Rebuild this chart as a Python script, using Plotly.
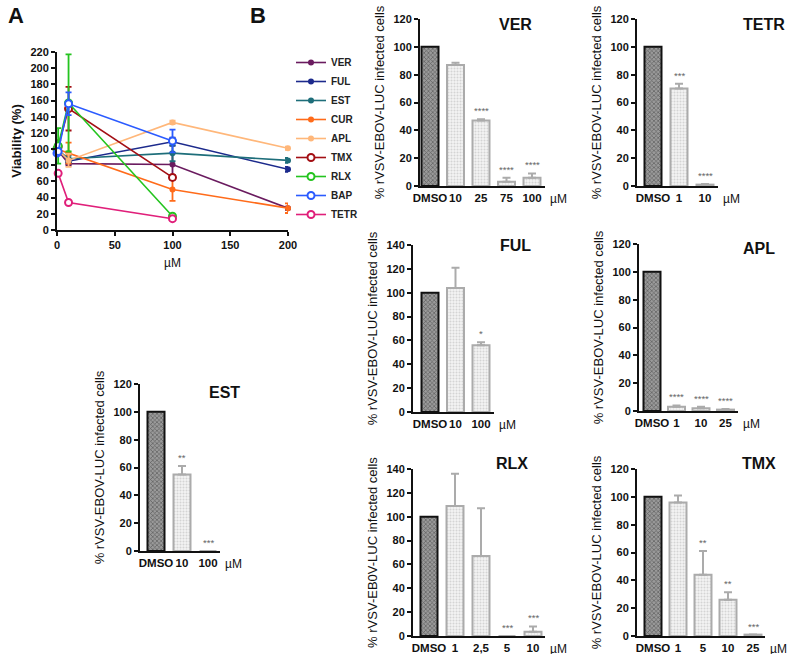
import plotly.graph_objects as go

W, H = 787, 654
FONT = "Liberation Sans, Arial, sans-serif"

# ---------------- Panel A data ----------------
series_names = ["VER", "FUL", "EST", "CUR", "APL", "TMX", "RLX", "BAP", "TETR"]
series_colors = ["#6a1b5f", "#1c2a8c", "#1e6e7a", "#ff6b1a", "#ffb77a",
                 "#a30f14", "#24c41f", "#2b5bff", "#e01f7a"]
ver_x, ver_y, ver_e = [0, 10, 100, 200], [100, 82, 81, 27], [0, 2, 14, 2]
ful_x, ful_y, ful_e = [0, 10, 100, 200], [100, 85, 109, 75], [0, 3, 5, 3]
est_x, est_y, est_e = [0, 10, 100, 200], [100, 88, 95, 86], [0, 4, 10, 3]
cur_x, cur_y, cur_e = [0, 10, 100, 200], [100, 95, 50, 27], [0, 13, 14, 6]
apl_x, apl_y, apl_e = [0, 10, 100, 200], [100, 86, 133, 101], [0, 8, 2, 2]
tmx_x, tmx_y, tmx_e = [0, 1, 10, 100], [100, 103, 150, 65], [0, 8, 27, 3]
rlx_x, rlx_y, rlx_e = [0, 1, 10, 100], [100, 104, 157, 17], [0, 22, 60, 2]
bap_x, bap_y, bap_e = [0, 1, 10, 100], [95, 97, 156, 110], [0, 4, 14, 14]
tetr_x, tetr_y, tetr_e = [1, 10, 100], [70, 34, 14], [3, 2, 2]
series_x = [ver_x, ful_x, est_x, cur_x, apl_x, tmx_x, rlx_x, bap_x, tetr_x]
series_y = [ver_y, ful_y, est_y, cur_y, apl_y, tmx_y, rlx_y, bap_y, tetr_y]
series_e = [ver_e, ful_e, est_e, cur_e, apl_e, tmx_e, rlx_e, bap_e, tetr_e]
viab_ticks = list(range(0, 221, 20))
conc_ticks = [0, 50, 100, 150, 200]

# ---------------- Panel B data ----------------
ver_cats = ["DMSO", "10", "25", "75", "100"]
ver_vals = [100, 87, 47, 3, 6]
ver_errs = [0, 1.5, 1, 3, 3]
ver_stars = ["", "", "****", "****", "****"]

tetr_cats = ["DMSO", "1", "10"]
tetr_vals = [100, 70, 1]
tetr_errs = [0, 3.5, 0.5]
tetr_stars = ["", "***", "****"]

ful_cats = ["DMSO", "10", "100"]
ful_vals = [100, 104, 56]
ful_errs = [0, 17, 2.5]
ful_stars = ["", "", "*"]

apl_cats = ["DMSO", "1", "10", "25"]
apl_vals = [100, 3, 2, 1]
apl_errs = [0, 1, 1, 0.5]
apl_stars = ["", "****", "****", "****"]

rlx_cats = ["DMSO", "1", "2,5", "5", "10"]
rlx_vals = [100, 109, 67, 0, 3.5]
rlx_errs = [0, 27, 40, 0, 4.5]
rlx_stars = ["", "", "", "***", "***"]

tmx_cats = ["DMSO", "1", "5", "10", "25"]
tmx_vals = [100, 96, 44, 26, 1]
tmx_errs = [0, 5, 17, 5.5, 0]
tmx_stars = ["", "", "**", "**", "***"]

est_cats = ["DMSO", "10", "100"]
est_vals = [100, 55, 0]
est_errs = [0, 6, 0]
est_stars = ["", "**", "***"]

ytitle = "% rVSV-EBOV-LUC infected cells"

# geometry (pixels): name, cats, vals, errs, stars, ymax, x0, xe, c0, step, y0, ytop,
#                    ytitle, title centre x, title centre y
panels = [
    ("VER", ver_cats, ver_vals, ver_errs, ver_stars, 120, 420, 545, 430, 25.5, 186, 19, ytitle, 515, 25),
    ("TETR", tetr_cats, tetr_vals, tetr_errs, tetr_stars, 120, 637, 718, 653, 26, 186, 19, ytitle, 764, 25),
    ("FUL", ful_cats, ful_vals, ful_errs, ful_stars, 140, 413, 494, 430, 25.5, 412, 245, ytitle, 515, 246),
    ("APL", apl_cats, apl_vals, apl_errs, apl_stars, 120, 639, 738, 652, 24.5, 411, 244, ytitle, 759, 248),
    ("RLX", rlx_cats, rlx_vals, rlx_errs, rlx_stars, 140, 413, 545, 429, 26, 636, 469,
     "% rVSV-EB0V-LUC infected cells", 512, 463),
    ("TMX", tmx_cats, tmx_vals, tmx_errs, tmx_stars, 120, 637, 765, 653, 25, 636, 469, ytitle, 759, 463),
    ("EST", est_cats, est_vals, est_errs, est_stars, 120, 140, 220, 156, 26, 551, 384, ytitle, 225, 392),
]

def px_x(p):
    return p / W

def px_y(p):
    return 1 - p / H

fig = go.Figure()
layout = dict(
    width=W, height=H, margin=dict(l=0, r=0, t=0, b=0, autoexpand=False),
    paper_bgcolor="white", plot_bgcolor="white",
    barmode="overlay", font=dict(family=FONT, color="#111"),
    showlegend=True,
)
annotations = []

axis_common = dict(showline=True, linewidth=2, linecolor="#111", ticks="outside",
                   ticklen=4, tickwidth=2, tickcolor="#111", showgrid=False,
                   zeroline=False, automargin=False, tickangle=0,
                   tickfont=dict(family=FONT, size=11, color="#111", weight="bold"))

# ---------------- Panel A ----------------
for i, name in enumerate(series_names):
    c = series_colors[i]
    open_marker = name in ("TMX", "RLX", "BAP", "TETR")
    fig.add_trace(go.Scatter(
        x=series_x[i], y=series_y[i], name=name, mode="lines+markers",
        line=dict(color=c, width=1.6),
        marker=dict(color="white" if open_marker else c, size=7 if open_marker else 6,
                    symbol="circle", line=dict(color=c, width=2 if open_marker else 0)),
        error_y=dict(type="data", array=series_e[i], color=c, thickness=1.8, width=3),
        cliponaxis=False, xaxis="x", yaxis="y",
    ))

layout["xaxis"] = dict(axis_common, domain=[px_x(57), px_x(288)], range=[0, 200],
                       tickvals=conc_ticks, anchor="y",
                       title=dict(text="µM", font=dict(size=12, family=FONT), standoff=8))
layout["yaxis"] = dict(axis_common, domain=[px_y(230), px_y(52)], range=[0, 220],
                       tickvals=viab_ticks, anchor="x",
                       title=dict(text="Viability (%)", standoff=6,
                                  font=dict(size=13, family=FONT, weight="bold")))
layout["legend"] = dict(x=px_x(291), y=px_y(48), xanchor="left", yanchor="top",
                        font=dict(size=10, family=FONT, color="#222", weight="bold"),
                        bgcolor="rgba(0,0,0,0)", itemwidth=30, tracegroupgap=0)

# ---------------- Panel B ----------------
for k, (name, cats, vals, errs, stars, ymax, x0, xe, c0, s, y0, ytop, yt, tx, ty) in enumerate(panels):
    ax = k + 2
    xa, ya = f"x{ax}", f"y{ax}"
    xs = list(range(len(cats)))
    bw = 17 / s
    fig.add_trace(go.Bar(
        x=xs[:1], y=vals[:1], width=bw, xaxis=xa, yaxis=ya, showlegend=False,
        marker=dict(color="#777", line=dict(color="#111", width=2),
                    pattern=dict(shape="x", fgcolor="#222", bgcolor="#9a9a9a",
                                 size=3, solidity=0.4)),
    ))
    fig.add_trace(go.Bar(
        x=xs[1:], y=vals[1:], width=bw, xaxis=xa, yaxis=ya, showlegend=False,
        marker=dict(color="#e6e6e6", line=dict(color="#ababab", width=2),
                    pattern=dict(shape=".", fgcolor="#b5b5b5", bgcolor="#f2f2f2",
                                 size=3, solidity=0.35)),
        error_y=dict(type="data", array=errs[1:], arrayminus=[0] * (len(cats) - 1),
                     symmetric=False, color="#ababab", thickness=2, width=4),
    ))
    layout[f"xaxis{ax}"] = dict(axis_common, domain=[px_x(x0), px_x(xe)],
                                range=[(x0 - c0) / s, (xe - c0) / s],
                                tickvals=xs, ticktext=cats, ticks="", anchor=ya,
                                tickfont=dict(family=FONT, size=11.5, color="#111",
                                              weight="bold"))
    layout[f"yaxis{ax}"] = dict(axis_common, domain=[px_y(y0), px_y(ytop)],
                                range=[0, ymax], dtick=20, anchor=xa,
                                title=dict(text=yt, standoff=6,
                                           font=dict(size=13, family=FONT, color="#111")))
    # panel title
    annotations.append(dict(text=f"<b>{name}</b>", xref="paper", yref="paper",
                            x=px_x(tx), y=px_y(ty), xanchor="center", yanchor="middle",
                            showarrow=False, font=dict(size=16, family=FONT, color="#111")))
    # µM unit label
    annotations.append(dict(text="µM", xref="paper", yref="paper",
                            x=px_x(xe + 3), y=px_y(y0 + 13), xanchor="left",
                            yanchor="middle", showarrow=False,
                            font=dict(size=12, family=FONT, color="#111")))
    # significance stars
    for i, st in enumerate(stars):
        if st:
            annotations.append(dict(text=st, xref=xa, yref=ya, x=xs[i],
                                    y=vals[i] + errs[i], yanchor="bottom", yshift=1,
                                    showarrow=False,
                                    font=dict(size=9.5, family=FONT, color="#666")))

annotations.append(dict(text="<b>A</b>", xref="paper", yref="paper", x=px_x(6), y=px_y(1),
                        xanchor="left", yanchor="top", showarrow=False,
                        font=dict(size=22, family=FONT, color="#111")))
annotations.append(dict(text="<b>B</b>", xref="paper", yref="paper", x=px_x(248), y=px_y(1),
                        xanchor="left", yanchor="top", showarrow=False,
                        font=dict(size=22, family=FONT, color="#111")))
layout["annotations"] = annotations
fig.update_layout(**layout)
fig.write_html("out.html", config={"displayModeBar": False},
               post_script="document.body.style.margin='0';document.body.style.overflow='hidden';")
